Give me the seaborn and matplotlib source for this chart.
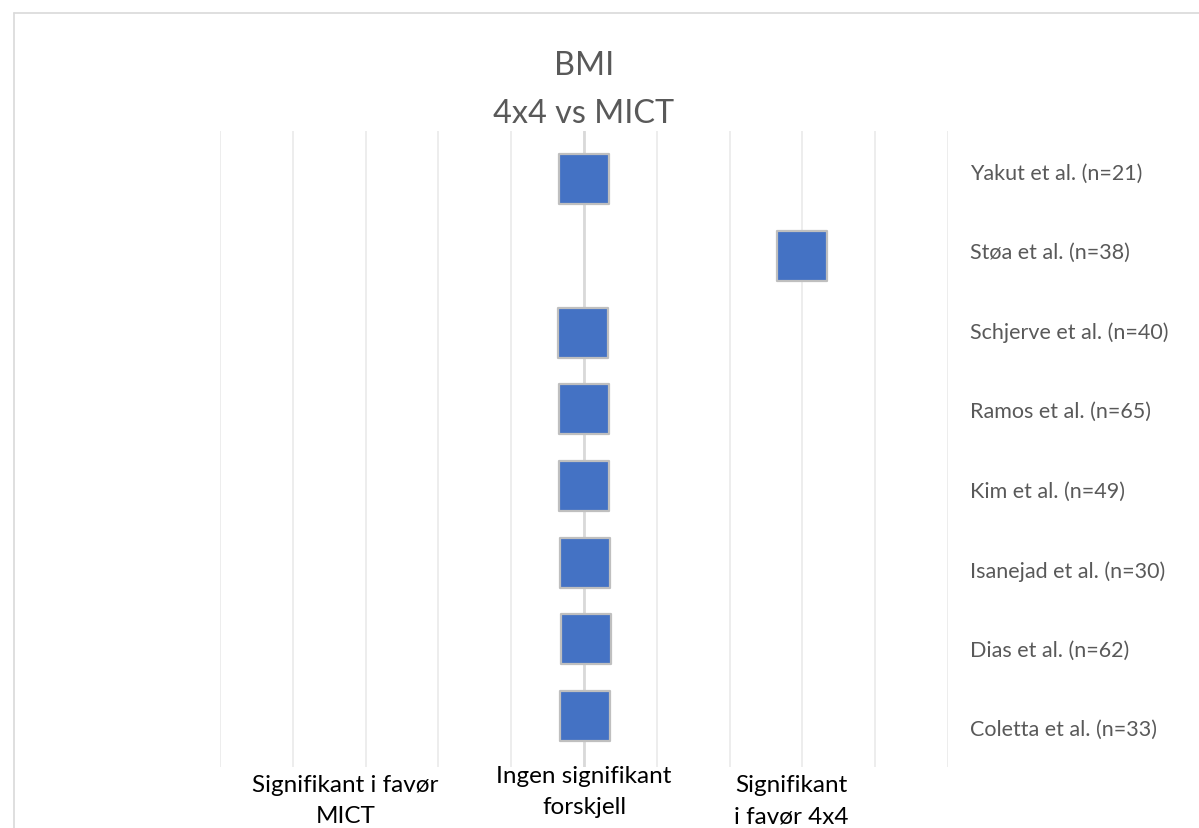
import numpy as np
import matplotlib
matplotlib.use("Agg")
import matplotlib.pyplot as plt
import matplotlib.transforms as mtransforms
from matplotlib.lines import Line2D
import seaborn as sns

# studies listed top to bottom, effect placement on the -5..5 scale
studies = ["Yakut et al. (n=21)", "Støa et al. (n=38)", "Schjerve et al. (n=40)",
           "Ramos et al. (n=65)", "Kim et al. (n=49)", "Isanejad et al. (n=30)",
           "Dias et al. (n=62)", "Coletta et al. (n=33)"]
effect = [0.0, 3.0, -0.01, 0.0, 0.0, 0.01, 0.03, 0.01]
zone_labels = ["Signifikant i favør\nMICT", "Ingen signifikant\nforskjell", "Signifikant\ni favør 4x4"]
zone_x = [-3.28, 0.0, 2.85]
title = "BMI\n4x4 vs MICT"

rows = np.arange(len(studies), 0, -1)

sns.set_style("white")
plt.rcParams['font.family'] = ['Lato', 'DejaVu Sans']

fig = plt.figure(figsize=(11.99, 8.29), dpi=100)
ax = fig.add_axes([220/1199, 1 - 768/829, 728/1199, 636/829])

# vertical gridlines
for gx in range(-5, 6):
    ax.axvline(gx, color="#EAEAEA", lw=1.2, zorder=0)
ax.axvline(0, color="#D9D9D9", lw=2.0, zorder=1)

sns.scatterplot(x=effect, y=rows, marker="s", s=1330, color="#4472C4",
                edgecolor="#BFBFBF", linewidth=1.6, zorder=3, ax=ax, legend=False)

ax.set_xlim(-5, 5)
ax.set_ylim(0.335, 8.63)
ax.set_xticks([])
ax.set_yticks([])
for sp in ax.spines.values():
    sp.set_visible(False)

# study names on a category axis on the right
ax2 = ax.twinx()
ax2.set_ylim(0.5, 8.5)
ax2.set_yticks(rows)
ax2.set_yticklabels(studies, fontsize=15.5, color="#595959")
ax2.tick_params(axis="y", length=0, pad=16)
for sp in ax2.spines.values():
    sp.set_visible(False)

# title
tr = mtransforms.blended_transform_factory(ax.transData, fig.transFigure)
ax.text(0, 1 - 90/829, title, transform=tr, ha="center", va="center",
        fontsize=23.3, color="#595959", linespacing=1.75)

# zone labels under the plot
for lab, zx in zip(zone_labels, zone_x):
    yc = 1 - (792 if zx == 0 else 801)/829
    ax.text(zx, yc, lab, transform=tr, ha="center", va="center",
            fontsize=17.5, color="black", linespacing=1.62)

# chart border
fig.add_artist(Line2D([14/1199, 1.0], [1 - 14/829, 1 - 14/829], color="#D9D9D9", lw=1.2))
fig.add_artist(Line2D([14/1199, 14/1199], [1 - 14/829, 0], color="#D9D9D9", lw=1.2))

fig.savefig("out.png", dpi=100)
